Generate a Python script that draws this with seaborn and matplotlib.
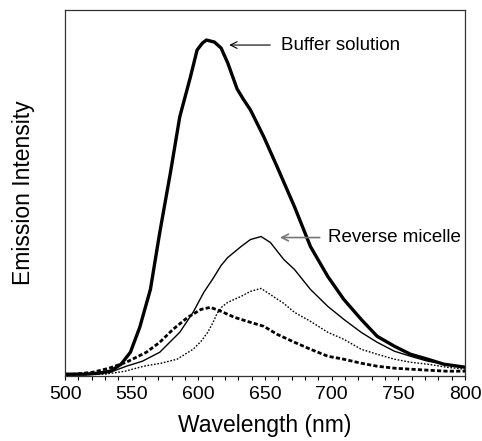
import matplotlib
matplotlib.use("Agg")
import matplotlib.pyplot as plt
import seaborn as sns
import pandas as pd
from matplotlib.ticker import MultipleLocator

# Data (arbitrary intensity units)
buffer_wl = [500, 515, 525, 534, 542, 549, 556, 564, 571, 579, 586, 594, 599, 603, 606, 609, 612, 617, 622, 629, 634, 639, 649, 659, 672, 684, 697, 709, 722, 734, 747, 759, 772, 784, 800]
buffer_int = [1, 1, 2, 4, 11, 23, 48, 86, 143, 203, 259, 299, 326, 333, 336, 335, 334, 328, 313, 287, 276, 266, 239, 209, 169, 129, 99, 76, 56, 39, 29, 21, 16, 11, 8]

micelle_wl = [500, 520, 534, 546, 558, 571, 586, 596, 604, 611, 617, 622, 632, 639, 647, 654, 664, 672, 684, 697, 709, 722, 734, 747, 759, 772, 786, 800]
micelle_int = [0, 1, 3, 9, 14, 23, 43, 63, 83, 97, 110, 118, 129, 136, 139, 133, 116, 106, 86, 69, 56, 43, 33, 24, 19, 14, 11, 8]

dotted_wl = [500, 530, 545, 559, 572, 584, 596, 602, 607, 611, 614, 618, 622, 632, 639, 647, 656, 664, 672, 684, 697, 709, 722, 734, 747, 759, 772, 786, 800]
dotted_int = [0, 1, 4, 9, 12, 16, 26, 34, 43, 53, 62, 69, 73, 79, 84, 87, 79, 72, 63, 54, 43, 36, 26, 21, 16, 13, 11, 8, 6]

dashed_wl = [500, 521, 533, 546, 561, 571, 581, 592, 602, 609, 617, 627, 639, 649, 659, 672, 684, 697, 709, 722, 734, 747, 759, 772, 786, 800]
dashed_int = [0, 3, 7, 13, 23, 33, 46, 58, 66, 68, 64, 58, 53, 49, 41, 33, 26, 19, 16, 12, 9, 7, 6, 5, 4, 4]

x_ticks = [500, 550, 600, 650, 700, 750, 800]

sns.set_theme(style="white")
plt.rcParams['font.family'] = ['Liberation Sans', 'DejaVu Sans']
plt.rcParams['text.color'] = 'black'
plt.rcParams['axes.labelcolor'] = 'black'
plt.rcParams['xtick.color'] = 'black'

fig = plt.figure(figsize=(4.82, 4.41), dpi=100)
ax = fig.add_axes([0.135, 0.147, 0.83, 0.83])

sns.lineplot(x=buffer_wl, y=buffer_int, ax=ax, color='black', lw=2.4)
sns.lineplot(x=micelle_wl, y=micelle_int, ax=ax, color='black', lw=1.0)
sns.lineplot(x=dotted_wl, y=dotted_int, ax=ax, color='black', lw=1.0, linestyle=(0, (1.2, 1.2)))
sns.lineplot(x=dashed_wl, y=dashed_int, ax=ax, color='black', lw=2.0, linestyle=(0, (1.5, 0.8)))

ax.set_xlim(500, 800)
ax.set_ylim(-1, 366)
ax.set_xticks(x_ticks)
ax.set_xticklabels([str(t) for t in x_ticks], fontsize=14)
ax.xaxis.set_minor_locator(MultipleLocator(10))
ax.set_yticks([])
ax.tick_params(axis='x', which='both', direction='out', length=3, width=0.8, color='black', bottom=True, pad=4)
for s in ax.spines.values():
    s.set_color('#333333')
    s.set_linewidth(0.9)

ax.set_xlabel('Wavelength (nm)', fontsize=16.5, labelpad=8)
ax.set_ylabel('Emission Intensity', fontsize=16.5, labelpad=22)

ax.annotate('', xy=(621, 331), xytext=(656, 331),
            arrowprops=dict(arrowstyle='->', color='black', lw=0.8))
ax.text(662, 331, 'Buffer solution', fontsize=13.5, va='center', ha='left')
ax.annotate('', xy=(659, 138), xytext=(693, 138),
            arrowprops=dict(arrowstyle='->', color='#777777', lw=1.2))
ax.text(697, 138, 'Reverse micelle', fontsize=13.5, va='center', ha='left')

fig.savefig('out.png', dpi=100)
